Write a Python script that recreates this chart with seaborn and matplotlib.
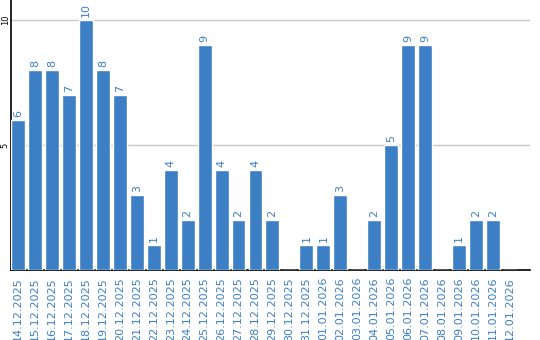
import matplotlib
matplotlib.use("Agg")
import matplotlib.pyplot as plt
import seaborn as sns
import pandas as pd

dates = ["14.12.2025", "15.12.2025", "16.12.2025", "17.12.2025", "18.12.2025",
         "19.12.2025", "20.12.2025", "21.12.2025", "22.12.2025", "23.12.2025",
         "24.12.2025", "25.12.2025", "26.12.2025", "27.12.2025", "28.12.2025",
         "29.12.2025", "30.12.2025", "31.12.2025", "01.01.2026", "02.01.2026",
         "03.01.2026", "04.01.2026", "05.01.2026", "06.01.2026", "07.01.2026",
         "08.01.2026", "09.01.2026", "10.01.2026", "11.01.2026", "12.01.2026"]
values = [6, 8, 8, 7, 10, 8, 7, 3, 1, 4, 2, 9, 4, 2, 4, 2, 0, 1, 1, 3,
          0, 2, 5, 9, 9, 0, 1, 2, 2, 0]
yticks = [5, 10]

df = pd.DataFrame({"date": dates, "value": values})

sns.set_theme(style="white")
plt.rcParams['font.family'] = ['DejaVu Sans']

blue = "#3c7fc4"
fig = plt.figure(figsize=(5.4, 3.4), dpi=100)
ax = fig.add_axes([11/540, 70/340, 519/540, 270/340])

sns.barplot(data=df, x="date", y="value", color=blue, saturation=1,
            width=0.82, ax=ax, zorder=3)

labels = [str(v) if v > 0 else "" for v in values]
ax.bar_label(ax.containers[0], labels=labels, rotation=90, padding=2,
             color=blue, fontsize=8)

ax.set_xlim(-0.41, 30.18)
ax.set_ylim(0, 10.8)
ax.set_yticks(yticks)
ax.set_yticklabels([str(t) for t in yticks], rotation=90, va="center",
                   fontsize=6, color="black")
ax.tick_params(axis="y", length=0, pad=1)
ax.tick_params(axis="x", length=0, pad=5)
ax.set_xticks(range(len(dates)))
ax.set_xticklabels(dates, rotation=90, ha="center", va="top",
                   fontsize=8, color=blue)
ax.grid(axis="y", color="#c8c8c8", linewidth=1, zorder=0)
ax.set_axisbelow(True)
ax.set_xlabel("")
ax.set_ylabel("")
for s in ["top", "right"]:
    ax.spines[s].set_visible(False)
for s in ["left", "bottom"]:
    ax.spines[s].set_color("black")
    ax.spines[s].set_linewidth(1.2)

fig.savefig("out.png", dpi=100)
